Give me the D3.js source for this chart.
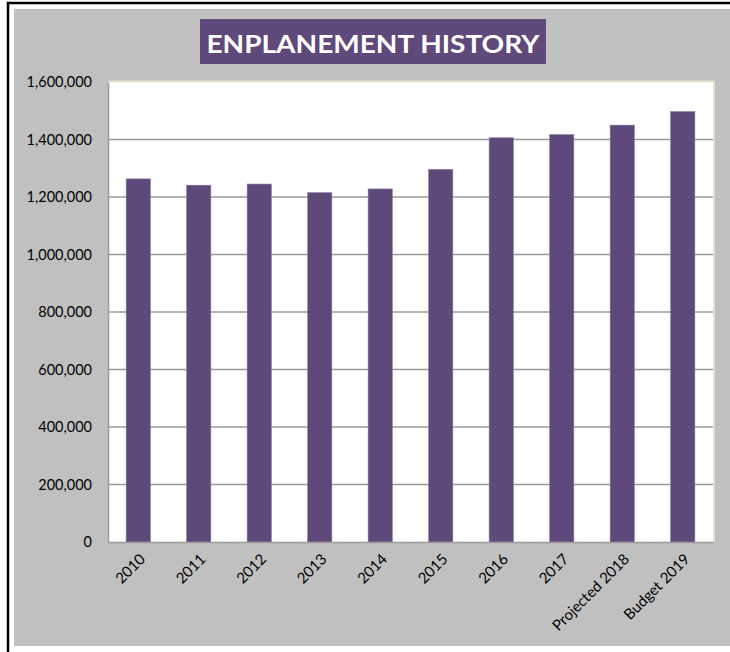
<!DOCTYPE html>
<html>
<head>
<meta charset="utf-8">
<script src="https://cdn.jsdelivr.net/npm/d3@7"></script>
<style>
  html, body { margin: 0; padding: 0; background: #ffffff; }
  svg { display: block; }
</style>
</head>
<body>
<svg id="chart" width="730" height="652"></svg>
<script>
const categories = ["2010", "2011", "2012", "2013", "2014", "2015", "2016", "2017", "Projected 2018", "Budget 2019"];
const enplanements = [1263000, 1241000, 1245000, 1215000, 1228000, 1296000, 1406000, 1417000, 1450000, 1497000];
const yTicks = [0, 200000, 400000, 600000, 800000, 1000000, 1200000, 1400000, 1600000];
const titleText = "ENPLANEMENT HISTORY";

const svg = d3.select("#chart");
const W = 730, H = 652;
const purple = "#5f497a";

// outer frame
svg.append("rect").attr("x", 0).attr("y", 0).attr("width", W).attr("height", H).attr("fill", "#ffffff");
svg.append("rect").attr("x", 8).attr("y", 3).attr("width", W).attr("height", H)
  .attr("fill", "none").attr("stroke", "#000000").attr("stroke-width", 2.5);
svg.append("rect").attr("x", 14).attr("y", 9).attr("width", W - 14).attr("height", 637).attr("fill", "#c0c0c0");

// plot area
const plot = { left: 108, top: 82, right: 713, bottom: 542 };
const x = d3.scaleBand().domain(categories).range([plot.left, plot.right]).paddingInner(0.6).paddingOuter(0.3);
const y = d3.scaleLinear().domain([0, 1600000]).range([plot.bottom, plot.top]);

svg.append("rect").attr("x", plot.left).attr("y", plot.top)
  .attr("width", plot.right - plot.left).attr("height", plot.bottom - plot.top)
  .attr("fill", "#ffffff");
// beige top/right border
svg.append("path")
  .attr("d", `M${plot.left},${plot.top - 0.5}H${plot.right + 1}V${plot.bottom}`)
  .attr("fill", "none").attr("stroke", "#e6e2cc").attr("stroke-width", 2);

// gridlines
svg.append("g").selectAll("line").data(yTicks.filter(d => d > 0 && d < 1600000)).join("line")
  .attr("x1", plot.left).attr("x2", plot.right)
  .attr("y1", d => y(d)).attr("y2", d => y(d))
  .attr("stroke", "#9a9a9a").attr("stroke-width", 1.5);

// bars
svg.append("g").selectAll("rect").data(categories).join("rect")
  .attr("x", d => x(d))
  .attr("width", x.bandwidth())
  .attr("y", (d, i) => y(enplanements[i]))
  .attr("height", (d, i) => y(0) - y(enplanements[i]))
  .attr("fill", purple)
  .attr("stroke", "#8677a0").attr("stroke-width", 0.6);

// y axis
const yAxis = d3.axisLeft(y).tickValues(yTicks).tickSize(0).tickPadding(16)
  .tickFormat(d3.format(","));
const gy = svg.append("g").attr("transform", `translate(${plot.left},0)`).call(yAxis);
gy.select(".domain").attr("stroke", "#9a9a9a").attr("stroke-width", 1.5);
gy.selectAll("text").attr("font-family", "Lato, 'Open Sans', sans-serif").attr("font-size", 14.5).attr("fill", "#000");

// x axis
const xAxis = d3.axisBottom(x).tickSize(0).tickPadding(0);
const gx = svg.append("g").attr("transform", `translate(0,${plot.bottom})`).call(xAxis);
gx.select(".domain").attr("stroke", "#9a9a9a").attr("stroke-width", 1.5);
gx.selectAll("text")
  .attr("font-family", "Lato, 'Open Sans', sans-serif").attr("font-size", 15).attr("fill", "#000")
  .attr("text-anchor", "end")
  .attr("dy", null).attr("y", 0)
  .attr("transform", "translate(8,18) rotate(-45)");

// title box
const tb = { x: 200, y: 19, w: 346, h: 45 };
svg.append("rect").attr("x", tb.x).attr("y", tb.y).attr("width", tb.w).attr("height", tb.h).attr("fill", purple);
svg.append("text").attr("x", tb.x + tb.w / 2).attr("y", tb.y + 34)
  .attr("text-anchor", "middle")
  .attr("font-family", "Lato, 'Open Sans', sans-serif").attr("font-weight", "bold").attr("font-size", 25)
  .attr("textLength", 333).attr("lengthAdjust", "spacingAndGlyphs")
  .attr("fill", "#ffffff").text(titleText);
</script>
</body>
</html>
